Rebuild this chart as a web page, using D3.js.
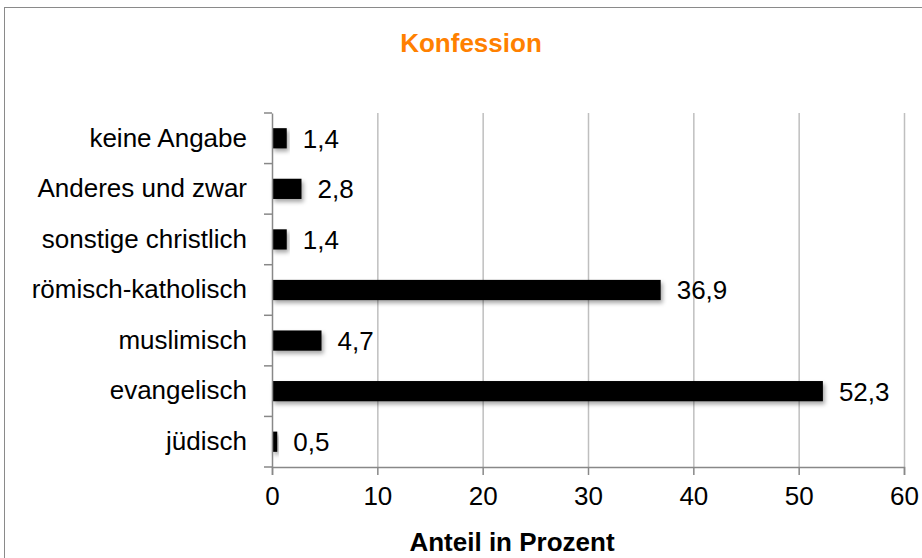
<!DOCTYPE html>
<html>
<head>
<meta charset="utf-8">
<script src="https://cdn.jsdelivr.net/npm/d3@7"></script>
<style>
  body { margin: 0; background: #fff; overflow: hidden; }
  svg { font-family: "Liberation Sans", Arial, sans-serif; display: block; }
</style>
</head>
<body>
<div id="chart"></div>
<script>
// data
var categories = ["keine Angabe", "Anderes und zwar", "sonstige christlich", "römisch-katholisch", "muslimisch", "evangelisch", "jüdisch"];
var values = [1.4, 2.8, 1.4, 36.9, 4.7, 52.3, 0.5];
var xTicks = [0, 10, 20, 30, 40, 50, 60];

var W = 922, H = 558;
var plotLeft = 272, plotRight = 904, plotTop = 113, plotBottom = 467;
var FS = 26;

var svg = d3.select("#chart").append("svg")
  .attr("width", W).attr("height", H);

var defs = svg.append("defs");
var f = defs.append("filter").attr("id", "shadow")
  .attr("x", "-20%").attr("y", "-50%").attr("width", "140%").attr("height", "220%");
f.append("feDropShadow").attr("dx", 2).attr("dy", 3).attr("stdDeviation", 2)
  .attr("flood-color", "#000").attr("flood-opacity", 0.35);

// frame
svg.append("rect").attr("x", 4.5).attr("y", 7.5).attr("width", W + 10).attr("height", H + 10)
  .attr("fill", "none").attr("stroke", "#8a8a8a").attr("stroke-width", 1);

svg.append("text").attr("x", 471).attr("y", 52).attr("text-anchor", "middle")
  .attr("font-size", FS).attr("font-weight", "bold").attr("fill", "#ff8000")
  .text("Konfession");

var x = d3.scaleLinear().domain([0, 60]).range([plotLeft, plotRight]);
var y = d3.scaleBand().domain(categories).range([plotTop, plotBottom]).paddingInner(0.6).paddingOuter(0.3);
var yb = d3.scaleBand().domain(categories).range([plotTop, plotBottom]);

// gridlines
svg.append("g").selectAll("line").data(xTicks.slice(1)).enter().append("line")
  .attr("x1", function(d) { return x(d) + 0.5; }).attr("x2", function(d) { return x(d) + 0.5; })
  .attr("y1", plotTop).attr("y2", plotBottom)
  .attr("stroke", "#bfbfbf").attr("stroke-width", 1.5);

// bars
svg.append("g").selectAll("rect").data(values).enter().append("rect")
  .attr("x", x(0))
  .attr("y", function(d, i) { return y(categories[i]); })
  .attr("width", function(d) { return x(d) - x(0); })
  .attr("height", y.bandwidth())
  .attr("fill", "#000")
  .attr("filter", "url(#shadow)");

// value labels
svg.append("g").selectAll("text").data(values).enter().append("text")
  .attr("x", function(d) { return x(d) + 16; })
  .attr("y", function(d, i) { return y(categories[i]) + y.bandwidth() / 2; })
  .attr("dy", "0.36em")
  .attr("font-size", FS).attr("fill", "#000")
  .text(function(d) { return d.toFixed(1).replace(".", ","); });

// x axis
var gx = svg.append("g").attr("transform", "translate(0," + plotBottom + ")")
  .call(d3.axisBottom(x).tickValues(xTicks).tickSize(8).tickPadding(12).tickFormat(d3.format("d")));
gx.select(".domain").attr("stroke", "#888").attr("stroke-width", 1.5);
gx.selectAll(".tick line").attr("stroke", "#888").attr("stroke-width", 1.5);
gx.selectAll("text").attr("font-size", FS).attr("font-family", "Liberation Sans, Arial, sans-serif").attr("fill", "#000");

// y axis
var gy = svg.append("g").attr("transform", "translate(" + plotLeft + ",0)")
  .call(d3.axisLeft(yb).tickSize(0).tickPadding(25));
gy.select(".domain").attr("stroke", "#888").attr("stroke-width", 1.5);
gy.selectAll("text").attr("font-size", FS).attr("font-family", "Liberation Sans, Arial, sans-serif").attr("fill", "#000");
// category boundary ticks
svg.append("g").selectAll("line").data(d3.range(categories.length + 1)).enter().append("line")
  .attr("x1", plotLeft - 8).attr("x2", plotLeft)
  .attr("y1", function(i) { return plotTop + i * yb.step(); })
  .attr("y2", function(i) { return plotTop + i * yb.step(); })
  .attr("stroke", "#888").attr("stroke-width", 1.5);

svg.append("text").attr("x", 512).attr("y", 551).attr("text-anchor", "middle")
  .attr("font-size", FS).attr("font-weight", "bold").attr("fill", "#000")
  .text("Anteil in Prozent");
</script>
</body>
</html>
